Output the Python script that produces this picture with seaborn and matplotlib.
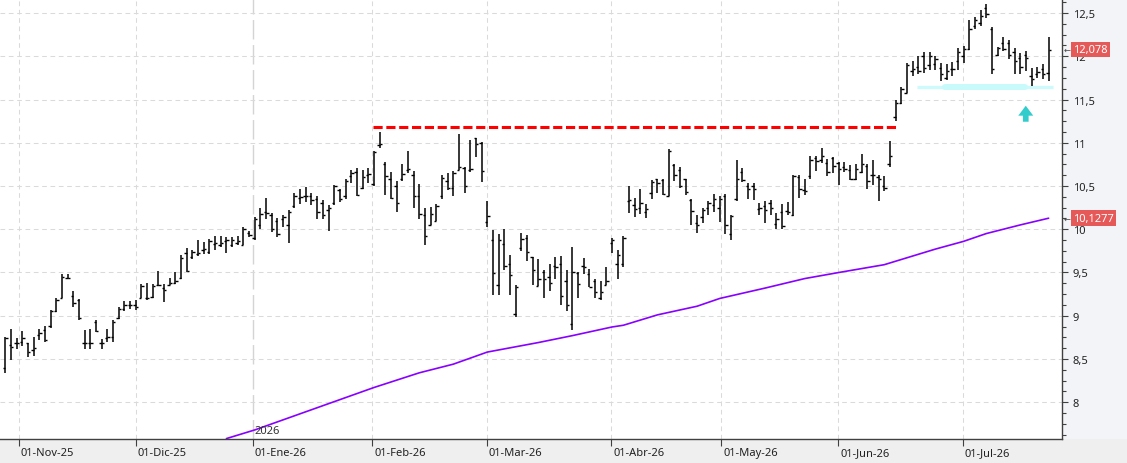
import numpy as np
import pandas as pd
import matplotlib
matplotlib.use('Agg')
import matplotlib.pyplot as plt
import seaborn as sns
from matplotlib.patches import Rectangle, Polygon
import matplotlib.transforms as mtransforms
from matplotlib.ticker import MultipleLocator, FuncFormatter

# ---------------- data (daily OHLC bars, Oct-29-2025 .. Jul-2026) ----------------
opens = [8.40, 8.66, 8.68, 8.70, 8.68, 8.60, 8.78, 8.84, 8.88, 9.06, 9.20, 9.44, 9.23, 9.18, 8.68, 8.68, 8.93, 8.68, 8.74, 8.76,
         8.97, 9.08, 9.12, 9.12, 9.21, 9.20, 9.22, 9.35, 9.32, 9.36, 9.38, 9.44, 9.73, 9.68, 9.71, 9.76, 9.74, 9.83, 9.82, 9.86,
         9.82, 9.84, 9.82, 9.96, 9.90, 10.05, 10.20, 10.16, 10.10, 10.12, 10.05, 10.27, 10.36, 10.38, 10.39, 10.35, 10.30, 10.22, 10.30, 10.45,
         10.38, 10.62, 10.66, 10.48, 10.63, 10.52, 10.97, 10.76, 10.58, 10.50, 10.58, 10.68, 10.63, 10.38, 10.17, 10.05, 10.10, 10.38, 10.56, 10.48,
         10.69, 10.71, 10.68, 11.05, 11.00, 10.08, 9.88, 9.35, 9.83, 9.60, 9.02, 9.78, 9.90, 9.68, 9.34, 9.50, 9.45, 9.57, 9.60, 9.40,
         8.90, 9.49, 9.58, 9.48, 9.40, 9.21, 9.36, 9.84, 9.60, 9.60, 10.33, 10.28, 10.25, 10.20, 10.42, 10.58, 10.57, 10.39, 10.74, 10.69,
         10.58, 10.34, 10.07, 10.14, 10.24, 10.28, 10.25, 10.38, 9.95, 10.35, 10.66, 10.50, 10.50, 10.23, 10.27, 10.30, 10.06, 10.20, 10.21, 10.17,
         10.60, 10.45, 10.62, 10.82, 10.80, 10.77, 10.82, 10.77, 10.72, 10.68, 10.58, 10.66, 10.73, 10.63, 10.60, 10.50, 10.75, 11.30, 11.46, 11.58,
         11.83, 11.88, 12.00, 11.90, 11.91, 11.87, 11.75, 11.85, 11.95, 12.00, 12.08, 12.35, 12.38, 12.56, 12.32, 12.01, 12.15, 12.15, 12.05, 11.98,
         12.02, 11.77, 11.80, 11.85, 11.81]
highs = [8.76, 8.85, 8.74, 8.82, 8.69, 8.76, 8.85, 8.88, 9.07, 9.20, 9.48, 9.48, 9.29, 9.19, 8.83, 8.85, 8.95, 8.73, 8.85, 8.95,
         9.10, 9.17, 9.17, 9.18, 9.37, 9.38, 9.37, 9.52, 9.37, 9.44, 9.50, 9.70, 9.78, 9.76, 9.88, 9.85, 9.89, 9.92, 9.92, 9.91,
         9.91, 9.92, 10.03, 9.98, 10.14, 10.24, 10.36, 10.19, 10.13, 10.17, 10.22, 10.42, 10.46, 10.49, 10.42, 10.39, 10.34, 10.28, 10.51, 10.47,
         10.58, 10.68, 10.71, 10.68, 10.71, 10.91, 11.13, 10.78, 10.66, 10.56, 10.75, 10.91, 10.67, 10.52, 10.24, 10.26, 10.29, 10.63, 10.65, 10.67,
         11.10, 10.72, 11.03, 11.06, 11.01, 10.33, 9.99, 9.94, 10.00, 9.70, 9.35, 9.96, 9.93, 9.68, 9.66, 9.53, 9.60, 9.68, 9.69, 9.53,
         9.79, 9.50, 9.67, 9.54, 9.43, 9.40, 9.56, 9.90, 9.76, 9.92, 10.50, 10.36, 10.46, 10.29, 10.57, 10.58, 10.58, 10.93, 10.75, 10.72,
         10.58, 10.35, 10.16, 10.25, 10.33, 10.41, 10.38, 10.41, 10.17, 10.80, 10.71, 10.54, 10.53, 10.30, 10.33, 10.34, 10.19, 10.29, 10.31, 10.63,
         10.63, 10.58, 10.85, 10.85, 10.94, 10.81, 10.84, 10.78, 10.78, 10.74, 10.76, 10.87, 10.76, 10.80, 10.63, 10.62, 11.02, 11.50, 11.64, 11.92,
         11.95, 12.00, 12.05, 12.05, 12.00, 11.92, 11.91, 11.93, 12.09, 12.12, 12.42, 12.45, 12.54, 12.60, 12.34, 12.11, 12.22, 12.19, 12.10, 12.04,
         12.06, 11.87, 11.88, 11.91, 12.22]
lows = [8.34, 8.49, 8.62, 8.65, 8.52, 8.54, 8.72, 8.70, 8.86, 9.04, 9.20, 9.43, 9.10, 8.95, 8.62, 8.62, 8.81, 8.62, 8.70, 8.70,
        8.96, 9.06, 9.08, 9.07, 9.20, 9.18, 9.20, 9.34, 9.16, 9.35, 9.37, 9.43, 9.51, 9.66, 9.69, 9.71, 9.71, 9.76, 9.80, 9.72,
        9.80, 9.82, 9.82, 9.91, 9.88, 10.00, 10.12, 9.97, 9.91, 10.03, 9.84, 10.24, 10.29, 10.31, 10.28, 10.12, 10.12, 9.98, 10.28, 10.32,
        10.35, 10.54, 10.38, 10.46, 10.53, 10.50, 10.94, 10.40, 10.35, 10.20, 10.56, 10.65, 10.25, 10.12, 9.82, 10.05, 10.09, 10.35, 10.45, 10.38,
        10.69, 10.42, 10.66, 10.84, 10.55, 10.03, 9.24, 9.24, 9.53, 9.24, 8.99, 9.75, 9.63, 9.35, 9.34, 9.21, 9.29, 9.42, 9.12, 9.05,
        8.83, 9.21, 9.48, 9.33, 9.20, 9.18, 9.36, 9.72, 9.43, 9.56, 10.19, 10.14, 10.18, 10.13, 10.35, 10.42, 10.40, 10.38, 10.56, 10.48,
        10.40, 10.05, 9.96, 10.07, 10.17, 10.20, 10.08, 9.94, 9.88, 10.33, 10.55, 10.35, 10.34, 10.17, 10.07, 10.16, 10.00, 10.00, 10.17, 10.15,
        10.36, 10.40, 10.58, 10.67, 10.77, 10.61, 10.65, 10.51, 10.66, 10.57, 10.57, 10.65, 10.47, 10.51, 10.33, 10.44, 10.72, 11.25, 11.45, 11.57,
        11.77, 11.80, 11.81, 11.84, 11.84, 11.71, 11.72, 11.77, 11.84, 11.92, 12.07, 12.32, 12.35, 12.44, 11.79, 12.00, 12.06, 11.97, 11.80, 11.79,
        11.83, 11.66, 11.75, 11.74, 11.71]
closes = [8.74, 8.64, 8.68, 8.74, 8.58, 8.63, 8.80, 8.72, 9.05, 9.18, 9.45, 9.44, 9.15, 8.97, 8.68, 8.68, 8.82, 8.68, 8.75, 8.93,
          9.08, 9.13, 9.12, 9.10, 9.34, 9.21, 9.34, 9.36, 9.30, 9.38, 9.40, 9.67, 9.52, 9.74, 9.72, 9.77, 9.86, 9.84, 9.84, 9.87,
          9.88, 9.86, 10.00, 9.93, 10.12, 10.18, 10.19, 10.00, 9.95, 10.14, 10.20, 10.38, 10.37, 10.39, 10.34, 10.20, 10.17, 10.25, 10.50, 10.35,
          10.56, 10.65, 10.40, 10.60, 10.64, 10.89, 10.98, 10.61, 10.36, 10.30, 10.64, 10.70, 10.38, 10.18, 9.92, 10.18, 10.27, 10.59, 10.48, 10.65,
          10.72, 10.50, 10.70, 10.98, 10.67, 10.15, 9.49, 9.87, 9.58, 9.47, 9.33, 9.89, 9.74, 9.53, 9.42, 9.42, 9.38, 9.56, 9.23, 9.13,
          9.50, 9.37, 9.56, 9.33, 9.27, 9.28, 9.40, 9.87, 9.70, 9.90, 10.34, 10.23, 10.30, 10.23, 10.55, 10.54, 10.41, 10.90, 10.63, 10.50,
          10.43, 10.21, 10.05, 10.22, 10.30, 10.35, 10.35, 10.05, 10.15, 10.58, 10.57, 10.47, 10.46, 10.25, 10.22, 10.24, 10.12, 10.04, 10.20, 10.62,
          10.46, 10.44, 10.80, 10.79, 10.85, 10.66, 10.73, 10.70, 10.70, 10.58, 10.70, 10.75, 10.56, 10.63, 10.58, 10.48, 10.85, 11.46, 11.62, 11.90,
          11.85, 11.83, 11.87, 12.00, 11.97, 11.80, 11.83, 11.85, 12.05, 12.08, 12.31, 12.42, 12.47, 12.49, 11.85, 12.10, 12.08, 12.02, 11.95, 11.88,
          11.98, 11.74, 11.82, 11.80, 12.078]

# 200-session moving average, read at bar positions
ma_index = [39, 44, 50, 59, 65, 73, 79, 85, 94, 100, 107, 109, 115, 122, 126, 134, 141, 147, 155, 161, 164, 169, 173, 179, 184]
ma_values = [7.58, 7.68, 7.82, 8.03, 8.17, 8.34, 8.44, 8.58, 8.69, 8.77, 8.87, 8.89, 9.01, 9.11, 9.20, 9.32, 9.43, 9.50, 9.59, 9.71,
             9.77, 9.86, 9.95, 10.05, 10.1277]

month_labels = ['01-Nov-25', '01-Dic-25', '01-Ene-26', '01-Feb-26', '01-Mar-26',
                '01-Abr-26', '01-May-26', '01-Jun-26', '01-Jul-26']
month_positions = [2.4, 23.0, 43.6, 64.7, 84.9, 106.9, 126.3, 146.9, 168.9]
year_label = '2026'

resistance_level = 11.18
resistance_span = [64.8, 157.4]
support_level = 11.65
support_span = [160.8, 184.8]
support_core = [165.7, 179.8]
arrow_x = 179.97
arrow_base, arrow_neck, arrow_tip = 11.243, 11.313, 11.428
last_close = 12.078
last_ma = 10.1277

# ---------------- figure ----------------
sns.set_theme(style='white')
plt.rcParams['font.family'] = ['Noto Sans', 'DejaVu Sans']

W, H = 1127, 464
fig = plt.figure(figsize=(W / 100, H / 100), dpi=100)
fig.patch.set_facecolor('#efefef')
fig.patches.append(Rectangle((1062 / W, 24 / H), 65 / W, 440 / H, transform=fig.transFigure,
                             facecolor='#f2f4f7', edgecolor='none', zorder=-1))
ax = fig.add_axes([0, 24 / H, 1062 / W, 440 / H])
ax.set_facecolor('white')

idx = np.arange(len(opens))
tick_w = 0.42
ax.vlines(idx, lows, highs, color='black', lw=1.1, zorder=3)
ax.hlines(opens, idx - tick_w, idx, color='black', lw=1.0, zorder=3)
ax.hlines(closes, idx, idx + tick_w, color='black', lw=1.0, zorder=3)

ma_df = pd.DataFrame({'bar': ma_index, 'ma': ma_values})
sns.lineplot(data=ma_df, x='bar', y='ma', ax=ax, color='#8800ff', lw=1.2,
             estimator=None, sort=False, zorder=2)

# resistance line (red dashed)
ax.plot(resistance_span, [resistance_level] * 2, color='#ff0000', lw=2.2,
        dashes=(3.0, 1.2), zorder=4)
# support zone (light cyan)
ax.plot(support_span, [support_level] * 2, color='#cdfbfd', lw=2.4, solid_capstyle='butt', zorder=1.5)
ax.plot(support_core, [support_level] * 2, color='#c8fafc', lw=4.3, solid_capstyle='round', zorder=1.5)
# up arrow
hw, sw = 1.32, 0.5
ax.add_patch(Polygon([(arrow_x, arrow_tip), (arrow_x + hw, arrow_neck), (arrow_x + sw, arrow_neck),
                      (arrow_x + sw, arrow_base), (arrow_x - sw, arrow_base), (arrow_x - sw, arrow_neck),
                      (arrow_x - hw, arrow_neck)], closed=True, facecolor='#33cccc', edgecolor='none', zorder=4))

ax.set_xlim(-0.935, 186.36)
ax.set_ylim(7.575, 12.662)
ax.set_xlabel('')
ax.set_ylabel('')

# spines
for s in ['top', 'left']:
    ax.spines[s].set_visible(False)
for s in ['right', 'bottom']:
    ax.spines[s].set_visible(True)
    ax.spines[s].set_color('#404040')
    ax.spines[s].set_linewidth(1.0)

# y axis on right
ax.yaxis.tick_right()
ax.set_yticks(np.arange(8, 12.51, 0.5))
ax.yaxis.set_minor_locator(MultipleLocator(0.125))
ax.yaxis.set_major_formatter(FuncFormatter(lambda v, p: f'{v:g}'.replace('.', ',')))
ax.tick_params(axis='y', which='major', right=True, length=4, width=0.8, color='#404040',
               pad=3.8, labelsize=8, labelcolor='#222222')
ax.tick_params(axis='y', which='minor', right=True, length=2.7, width=0.8, color='#404040')

# x axis
ax.set_xticks(month_positions)
ax.set_xticklabels(month_labels)
ax.tick_params(axis='x', which='major', bottom=True, length=5.2, width=0.8, color='#404040',
               pad=0.5, labelsize=8, labelcolor='#222222')
off = mtransforms.ScaledTranslation(2 / 100, 0, fig.dpi_scale_trans)
for lbl in ax.get_xticklabels():
    lbl.set_ha('left')
    lbl.set_transform(lbl.get_transform() + off)

# grid
ax.grid(axis='y', which='major', color='#dadada', lw=0.75, ls=(0, (4.5, 3.5)))
ax.grid(axis='x', which='major', color='#dadada', lw=0.75, ls=(0, (4.5, 3.5)))
ax.set_axisbelow(True)
gl = ax.xaxis.get_gridlines()
gl[2].set_linestyle((0, (14, 4)))
gl[2].set_color('#d4d4d4')
gl[2].set_linewidth(1.0)

# year marker
tr_year = mtransforms.blended_transform_factory(ax.transData, ax.transAxes) + \
    mtransforms.ScaledTranslation(2 / 100, 0, fig.dpi_scale_trans)
ax.text(month_positions[2], 8.5 / 440, year_label, transform=tr_year, ha='left', va='center',
        fontsize=8, color='#333333')

# last-value labels on price axis
tr_lab = mtransforms.blended_transform_factory(ax.transAxes, ax.transData)
for val, txt in [(last_close, '12,078'), (last_ma, '10,1277')]:
    ax.text(1.0105, val, txt, transform=tr_lab, ha='left', va='center', fontsize=8, color='white',
            bbox=dict(boxstyle='square,pad=0.22', fc='#e65959', ec='none'), clip_on=False, zorder=10)
    ax.text(1.0015, val, '←', transform=tr_lab, ha='left', va='center', fontsize=6,
            color='#444444', clip_on=False, zorder=10, family=['DejaVu Sans'])

fig.savefig('out.png', dpi=100)
